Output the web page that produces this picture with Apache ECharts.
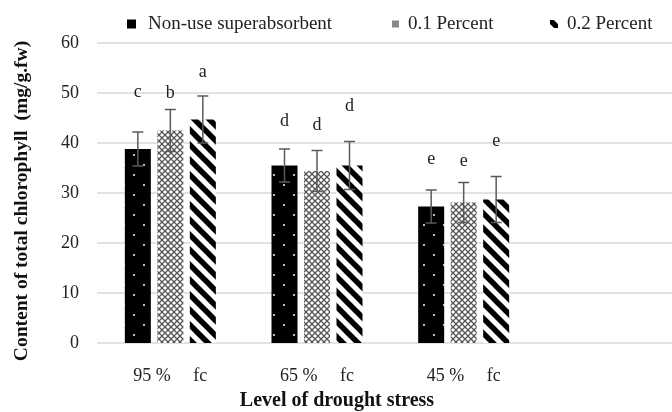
<!DOCTYPE html>
<html>
<head>
<meta charset="utf-8">
<script src="https://cdn.jsdelivr.net/npm/echarts@6/dist/echarts.min.js"></script>
<style>
  html, body { margin: 0; padding: 0; background: #fff; }
  #chart { width: 672px; height: 412px; }
</style>
</head>
<body>
<div id="chart"></div>
<script>
const categories = ['95 %     fc', '65 %     fc', '45 %     fc']
const seriesNames = ['Non-use superabsorbent', '0.1 Percent', '0.2 Percent']

// bar heights
const nonUse = [38.8, 35.5, 27.3]
const pct01 = [42.5, 34.4, 28.1]
const pct02 = [44.7, 35.5, 28.7]

// error bar half lengths
const nonUseErr = [3.4, 3.3, 3.3]
const pct01Err = [4.2, 4.1, 4.0]
const pct02Err = [4.7, 4.8, 4.6]

// significance letters and the value where each one sits
const nonUseLetters = ['c', 'd', 'e']
const pct01Letters = ['b', 'd', 'e']
const pct02Letters = ['a', 'd', 'e']
const nonUseLetterAt = [50.2, 44.3, 36.7]
const pct01LetterAt = [50.0, 43.6, 36.4]
const pct02LetterAt = [54.2, 47.3, 40.3]

const yTicks = { min: 0, max: 60, interval: 10 }

const FONT = '"Liberation Serif", "Times New Roman", serif'
const BAR_W = 26
const BAR_GAP = 6.5

// --- fill patterns ---
function dotsPattern() {
  const c = document.createElement('canvas')
  c.width = 20; c.height = 20
  const g = c.getContext('2d')
  g.fillStyle = '#000'
  g.fillRect(0, 0, 20, 20)
  g.fillStyle = '#e8e8e8'
  g.beginPath(); g.arc(4, 5, 1.1, 0, Math.PI * 2); g.fill()
  g.beginPath(); g.arc(14, 15, 1.1, 0, Math.PI * 2); g.fill()
  return c
}

function hatchPattern() {
  const c = document.createElement('canvas')
  c.width = 6; c.height = 6
  const g = c.getContext('2d')
  g.fillStyle = '#fff'
  g.fillRect(0, 0, 6, 6)
  g.strokeStyle = '#555'
  g.lineWidth = 1.3
  g.beginPath()
  g.moveTo(-1, -1); g.lineTo(7, 7)
  g.moveTo(-1, 7); g.lineTo(7, -1)
  g.stroke()
  return c
}

function stripePattern() {
  const s = 15
  const c = document.createElement('canvas')
  c.width = s; c.height = s
  const g = c.getContext('2d')
  g.fillStyle = '#fff'
  g.fillRect(0, 0, s, s)
  g.strokeStyle = '#000'
  g.lineWidth = 5.5
  g.beginPath()
  for (let k = -1; k <= 1; k++) {
    g.moveTo(k * s - 2, -2); g.lineTo(k * s + s + 2, s + 2)
  }
  g.stroke()
  return c
}

const fills = [
  { image: dotsPattern(), repeat: 'repeat' },
  { image: hatchPattern(), repeat: 'repeat' },
  { image: stripePattern(), repeat: 'repeat' }
]
// legend swatches are tiny in the original
const legendFills = ['#000', '#888', fills[2]]

function barSeries(i, values) {
  return {
    name: seriesNames[i],
    type: 'bar',
    xAxisIndex: 0,
    yAxisIndex: 0,
    data: values,
    barWidth: BAR_W,
    barGap: (BAR_GAP / BAR_W * 100) + '%',
    itemStyle: { color: fills[i] },
    animation: false
  }
}

function errorSeries(i, values, errs, letters, letterAt) {
  const shift = (i - 1) * (BAR_W + BAR_GAP)
  return {
    type: 'custom',
    xAxisIndex: 0,
    yAxisIndex: 0,
    data: values.map((v, k) => [k, v, errs[k], letterAt[k]]),
    animation: false,
    z: 5,
    renderItem: function (params, api) {
      const cat = api.value(0)
      const x = api.coord([cat, 0])[0] + shift
      const hi = api.coord([cat, api.value(1) + api.value(2)])[1]
      const lo = api.coord([cat, api.value(1) - api.value(2)])[1]
      const ly = api.coord([cat, api.value(3)])[1]
      const cap = 5.5
      const line = { stroke: '#5a5a5a', lineWidth: 1.5 }
      return {
        type: 'group',
        children: [
          { type: 'line', shape: { x1: x, y1: hi, x2: x, y2: lo }, style: line },
          { type: 'line', shape: { x1: x - cap, y1: hi, x2: x + cap, y2: hi }, style: line },
          { type: 'line', shape: { x1: x - cap, y1: lo, x2: x + cap, y2: lo }, style: line },
          {
            type: 'text', x: x, y: ly,
            style: {
              text: letters[params.dataIndex],
              font: '18px ' + FONT,
              fill: '#222',
              align: 'center',
              verticalAlign: 'middle'
            }
          }
        ]
      }
    }
  }
}

function legendAt(i, left, size, padLeft) {
  return {
    data: [seriesNames[i]],
    left: left,
    top: 9,
    icon: 'rect',
    itemWidth: size,
    itemHeight: size,
    itemStyle: { color: legendFills[i] },
    textStyle: {
      fontFamily: FONT,
      fontSize: 19,
      lineHeight: 20,
      color: '#222',
      padding: [0, 0, 0, padLeft]
    },
    selectedMode: false
  }
}

const chart = echarts.init(document.getElementById('chart'))

const option = {
  backgroundColor: '#fff',
  legend: [
    legendAt(0, 122, 9, 7),
    legendAt(1, 387, 7, 4),
    legendAt(2, 545, 8, 4)
  ],
  grid: [
    // bars: three category bands of Excel's width
    { left: 97, width: 440, top: 43, bottom: 69 },
    // background gridlines across the full plot width
    { left: 97, right: 0, top: 43, bottom: 69 }
  ],
  xAxis: [
    {
      type: 'category',
      gridIndex: 0,
      data: categories,
      axisTick: { show: false },
      axisLine: { show: false },
      axisLabel: {
        interval: 0,
        margin: 24,
        fontFamily: FONT,
        fontSize: 18,
        color: '#222'
      }
    },
    {
      type: 'value',
      gridIndex: 1,
      show: false
    }
  ],
  yAxis: [
    {
      type: 'value',
      gridIndex: 0,
      min: yTicks.min,
      max: yTicks.max,
      interval: yTicks.interval,
      show: false
    },
    {
      type: 'value',
      gridIndex: 1,
      min: yTicks.min,
      max: yTicks.max,
      interval: yTicks.interval,
      axisLine: { show: false },
      axisTick: { show: false },
      axisLabel: {
        margin: 18,
        fontFamily: FONT,
        fontSize: 18,
        color: '#222'
      },
      splitLine: { lineStyle: { color: '#d9d9d9', width: 1.5 } }
    }
  ],
  graphic: [
    {
      type: 'text',
      x: 22, y: 201,
      rotation: Math.PI / 2,
      style: {
        text: 'Content of total chlorophyll  (mg/g.fw)',
        font: 'bold 19.5px ' + FONT,
        fill: '#111',
        align: 'center',
        verticalAlign: 'middle'
      }
    },
    {
      type: 'text',
      x: 337, y: 401,
      style: {
        text: 'Level of drought stress',
        font: 'bold 20px ' + FONT,
        fill: '#111',
        align: 'center',
        verticalAlign: 'middle'
      }
    }
  ],
  series: [
    barSeries(0, nonUse),
    barSeries(1, pct01),
    barSeries(2, pct02),
    errorSeries(0, nonUse, nonUseErr, nonUseLetters, nonUseLetterAt),
    errorSeries(1, pct01, pct01Err, pct01Letters, pct01LetterAt),
    errorSeries(2, pct02, pct02Err, pct02Letters, pct02LetterAt)
  ]
}

chart.setOption(option)
</script>
</body>
</html>
